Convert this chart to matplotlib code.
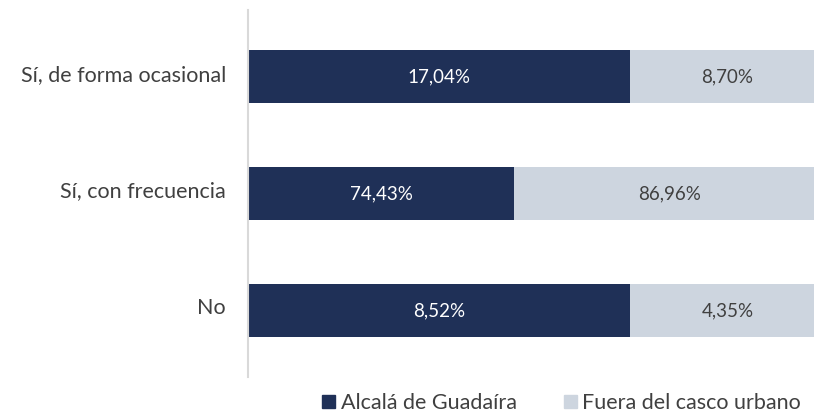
import matplotlib
matplotlib.use("Agg")
import matplotlib.pyplot as plt
import matplotlib.transforms as mtransforms
from matplotlib.patches import Patch
import numpy as np

categories = ["Sí, de forma ocasional", "Sí, con frecuencia", "No"]
alcala = [17.04, 74.43, 8.52]
fuera = [8.70, 86.96, 4.35]
series_names = ["Alcalá de Guadaíra", "Fuera del casco urbano"]

dark = "#1F3057"
light = "#CDD5DF"
txt = "#404040"

plt.rcParams['font.family'] = ['Lato', 'DejaVu Sans']

fig = plt.figure(figsize=(8.14, 4.16), dpi=100)
ax = fig.add_axes([248/814, 1-377/416, 566/814, 367/416])

a = np.array(alcala)
f = np.array(fuera)
tot = a + f
fa = a / tot
ff = f / tot
y = np.arange(len(categories))
h = 0.45
ax.barh(y, fa, height=h, color=dark)
ax.barh(y, ff, left=fa, height=h, color=light)

def fmt(v):
    return f"{v:.2f}".replace(".", ",") + "%"

for i in range(len(categories)):
    ax.text(fa[i]/2, y[i], fmt(a[i]), ha='center', va='center', color='white', fontsize=13.5)
    ax.text(fa[i] + ff[i]/2, y[i], fmt(f[i]), ha='center', va='center', color=txt, fontsize=13.5)

ax.set_xlim(0, 566/577)
ax.set_ylim(2.57, -0.57)
ax.set_yticks(y)
ax.set_yticklabels(categories, fontsize=15.5, color=txt)
ax.tick_params(axis='y', length=0, pad=16)
offset = mtransforms.ScaledTranslation(0, 4/100, fig.dpi_scale_trans)
for lab in ax.get_yticklabels():
    lab.set_transform(lab.get_transform() + offset)
ax.set_xticks([])
for s in ['top', 'right', 'bottom']:
    ax.spines[s].set_visible(False)
ax.spines['left'].set_color('#D9D9D9')
ax.spines['left'].set_linewidth(1.5)

handles = [Patch(color=dark), Patch(color=light)]
fig.legend(handles, series_names, loc='center', bbox_to_anchor=(0.69, 0.031), ncol=2,
           frameon=False, fontsize=15.5, handlelength=0.6, handleheight=0.6,
           handletextpad=0.25, columnspacing=2.2, labelcolor=txt, borderpad=0)

fig.savefig("out.png", dpi=100)
